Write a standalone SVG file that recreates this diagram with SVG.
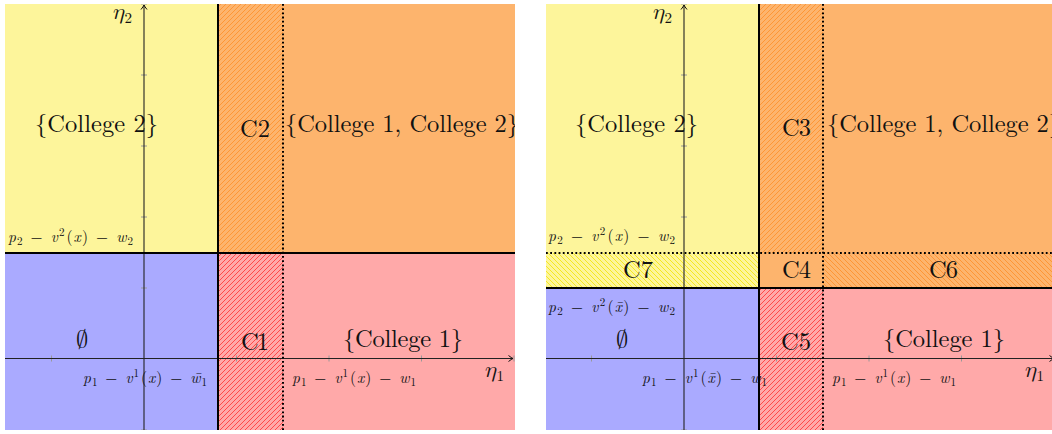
<svg xmlns="http://www.w3.org/2000/svg" width="1052" height="434" viewBox="0 0 1052 434">
<style>
.lbl{font-family:"Latin Modern Roman","Liberation Serif",serif;font-size:24.5px;fill:#111}
.m{font-family:"Latin Modern Roman","Liberation Serif",serif;font-size:15.5px;fill:#111}
.i{font-style:italic}
.sb{font-size:11px}
.eta{font-family:"Latin Modern Math","Latin Modern Roman",serif;font-size:23px;fill:#111}
.es{font-family:"Latin Modern Roman",serif;font-size:15px}
.es0{font-family:"Latin Modern Math","Latin Modern Roman",serif;font-size:24.5px;fill:#111}
.thick{stroke:#000;stroke-width:2;fill:none}
.dot{stroke:#000;stroke-width:2;stroke-dasharray:1.8 2.4;fill:none}
.axis{stroke:#222;stroke-width:1.1;fill:none}
.tick{stroke:#999;stroke-width:1;fill:none}
.yel{fill:#FDF59B}.blu{fill:#AAAAFF}.ora{fill:#FDB46D}.pnk{fill:#FFA9A9}
</style>
<defs>
<pattern id="neO" patternUnits="userSpaceOnUse" width="5" height="5"><path d="M-1,1 L1,-1 M0,5 L5,0 M4,6 L6,4" stroke="#FF8A1C" stroke-width="0.7"/></pattern>
<pattern id="neR" patternUnits="userSpaceOnUse" width="5" height="5"><path d="M-1,1 L1,-1 M0,5 L5,0 M4,6 L6,4" stroke="#FF2020" stroke-width="0.7"/></pattern>
<pattern id="nwY" patternUnits="userSpaceOnUse" width="5" height="5"><path d="M-1,4 L1,6 M0,0 L5,5 M4,-1 L6,1" stroke="#F2E400" stroke-width="0.8"/></pattern>
<pattern id="nwO" patternUnits="userSpaceOnUse" width="5" height="5"><path d="M-1,4 L1,6 M0,0 L5,5 M4,-1 L6,1" stroke="#FF8A1C" stroke-width="0.7"/></pattern>
<marker id="arr" viewBox="-6 -4 8 8" refX="0" refY="0" markerWidth="8" markerHeight="8" markerUnits="userSpaceOnUse" orient="auto"><path d="M-4.5,-3 Q-1.5,-0.6 0,0 Q-1.5,0.6 -4.5,3" fill="none" stroke="#111" stroke-width="1"/></marker>
<clipPath id="cL"><rect x="5" y="4" width="510" height="426"/></clipPath>
<clipPath id="cR"><rect x="546" y="4" width="506" height="426"/></clipPath>
</defs>

<g id="panel-left" clip-path="url(#cL)">
  <g id="L-regions">
    <rect id="L-college2" class="yel" x="5" y="4" width="213" height="249"/>
    <rect id="L-empty" class="blu" x="5" y="253" width="213" height="177"/>
    <rect id="L-both" class="ora" x="218" y="4" width="297" height="249"/>
    <rect id="L-college1" class="pnk" x="218" y="253" width="297" height="177"/>
    <rect id="L-C2" fill="url(#neO)" x="218" y="4" width="65" height="249"/>
    <rect id="L-C1" fill="url(#neR)" x="218" y="253" width="65" height="177"/>
  </g>
  <g id="L-axes">
    <path class="tick" d="M141,4H147M141,75H147M141,146H147M141,217H147M141,288H147M141,430H147"/>
    <path class="tick" d="M51.5,355.5V361.5M236.5,355.5V361.5M329,355.5V361.5M421.5,355.5V361.5M514,355.5V361.5"/>
    <path class="axis" d="M144,434V5" marker-end="url(#arr)"/>
    <path class="axis" d="M5,358.5H513" marker-end="url(#arr)"/>
  </g>
  <g id="L-connectors">
    <path class="thick" d="M218,4V430"/>
    <path class="thick" d="M5,253H515"/>
    <path class="dot" d="M283,4V430"/>
  </g>
  <g id="L-labels">
    <text class="lbl" x="35" y="132" textLength="123">{College 2}</text>
    <text class="lbl" x="240" y="137" textLength="30">C2</text>
    <text class="lbl" x="285" y="132" textLength="234">{College 1, College 2}</text>
    <text class="m" x="8" y="242" textLength="125"><tspan class="i">p</tspan><tspan class="sb" dy="3">2</tspan><tspan dx="7" dy="-3">−</tspan><tspan class="i" dx="7">v</tspan><tspan class="sb" dy="-6">2</tspan><tspan dx="1" dy="6">(</tspan><tspan class="i">x</tspan><tspan>)</tspan><tspan dx="7">−</tspan><tspan class="i" dx="7">w</tspan><tspan class="sb" dy="3">2</tspan></text>
    <text class="es0" x="82" y="348" text-anchor="middle">∅</text>
    <text class="lbl" x="241" y="350" textLength="28">C1</text>
    <text class="lbl" x="343" y="347" textLength="120">{College 1}</text>
    <text class="m" x="83" y="383" textLength="124"><tspan class="i">p</tspan><tspan class="sb" dy="3">1</tspan><tspan dx="7" dy="-3">−</tspan><tspan class="i" dx="7">v</tspan><tspan class="sb" dy="-6">1</tspan><tspan dx="1" dy="6">(</tspan><tspan class="i">x</tspan><tspan>)</tspan><tspan dx="7">−</tspan><tspan class="i" dx="7">w̄</tspan><tspan class="sb" dy="3">1</tspan></text>
    <text class="m" x="292" y="383" textLength="124"><tspan class="i">p</tspan><tspan class="sb" dy="3">1</tspan><tspan dx="7" dy="-3">−</tspan><tspan class="i" dx="7">v</tspan><tspan class="sb" dy="-6">1</tspan><tspan dx="1" dy="6">(</tspan><tspan class="i">x</tspan><tspan>)</tspan><tspan dx="7">−</tspan><tspan class="i" dx="7">w</tspan><tspan class="sb" dy="3">1</tspan></text>
    <text class="eta" x="485" y="377">𝜂<tspan class="es" dy="4">1</tspan></text>
    <text class="eta" x="113" y="19">𝜂<tspan class="es" dy="4">2</tspan></text>
  </g>
</g>

<g id="panel-right" clip-path="url(#cR)">
  <g id="R-regions">
    <rect id="R-college2" class="yel" x="546" y="4" width="213" height="284"/>
    <rect id="R-C7" fill="url(#nwY)" x="546" y="253" width="213" height="35"/>
    <rect id="R-empty" class="blu" x="546" y="288" width="213" height="142"/>
    <rect id="R-both" class="ora" x="759" y="4" width="297" height="284"/>
    <rect id="R-C3" fill="url(#neO)" x="759" y="4" width="64" height="249"/>
    <rect id="R-C6" fill="url(#nwO)" x="823" y="253" width="233" height="35"/>
    <rect id="R-college1" class="pnk" x="759" y="288" width="297" height="142"/>
    <rect id="R-C5" fill="url(#neR)" x="759" y="288" width="64" height="142"/>
  </g>
  <g id="R-axes">
    <path class="tick" d="M681,4H687M681,75H687M681,146H687M681,217H687M681,288H687M681,430H687"/>
    <path class="tick" d="M591.5,355.5V361.5M776.5,355.5V361.5M869,355.5V361.5M961.5,355.5V361.5"/>
    <path class="axis" d="M684,434V5" marker-end="url(#arr)"/>
    <path class="axis" d="M546,358.5H1054" marker-end="url(#arr)"/>
  </g>
  <g id="R-connectors">
    <path class="thick" d="M759,4V430"/>
    <path class="thick" d="M546,288H1056"/>
    <path class="dot" d="M546,253H1056"/>
    <path class="dot" d="M823,4V430"/>
  </g>
  <g id="R-labels">
    <text class="lbl" x="575" y="132" textLength="123">{College 2}</text>
    <text class="lbl" x="782" y="136" textLength="29">C3</text>
    <text class="lbl" x="827" y="132" textLength="234">{College 1, College 2}</text>
    <text class="m" x="548" y="241" textLength="127"><tspan class="i">p</tspan><tspan class="sb" dy="3">2</tspan><tspan dx="7" dy="-3">−</tspan><tspan class="i" dx="7">v</tspan><tspan class="sb" dy="-6">2</tspan><tspan dx="1" dy="6">(</tspan><tspan class="i">x</tspan><tspan>)</tspan><tspan dx="7">−</tspan><tspan class="i" dx="7">w</tspan><tspan class="sb" dy="3">2</tspan></text>
    <text class="lbl" x="623" y="278" textLength="30">C7</text>
    <text class="lbl" x="782" y="278" textLength="29">C4</text>
    <text class="lbl" x="929" y="278" textLength="29">C6</text>
    <text class="m" x="548" y="312" textLength="127"><tspan class="i">p</tspan><tspan class="sb" dy="3">2</tspan><tspan dx="7" dy="-3">−</tspan><tspan class="i" dx="7">v</tspan><tspan class="sb" dy="-6">2</tspan><tspan dx="1" dy="6">(</tspan><tspan class="i">x̄</tspan><tspan>)</tspan><tspan dx="7">−</tspan><tspan class="i" dx="7">w</tspan><tspan class="sb" dy="3">2</tspan></text>
    <text class="es0" x="622" y="348" text-anchor="middle">∅</text>
    <text class="lbl" x="781" y="350" textLength="30">C5</text>
    <text class="lbl" x="883" y="347" textLength="122">{College 1}</text>
    <text class="m" x="642" y="383" textLength="125"><tspan class="i">p</tspan><tspan class="sb" dy="3">1</tspan><tspan dx="7" dy="-3">−</tspan><tspan class="i" dx="7">v</tspan><tspan class="sb" dy="-6">1</tspan><tspan dx="1" dy="6">(</tspan><tspan class="i">x̄</tspan><tspan>)</tspan><tspan dx="7">−</tspan><tspan class="i" dx="7">w</tspan><tspan class="sb" dy="3">1</tspan></text>
    <text class="m" x="832" y="383" textLength="124"><tspan class="i">p</tspan><tspan class="sb" dy="3">1</tspan><tspan dx="7" dy="-3">−</tspan><tspan class="i" dx="7">v</tspan><tspan class="sb" dy="-6">1</tspan><tspan dx="1" dy="6">(</tspan><tspan class="i">x</tspan><tspan>)</tspan><tspan dx="7">−</tspan><tspan class="i" dx="7">w</tspan><tspan class="sb" dy="3">1</tspan></text>
    <text class="eta" x="1025" y="377">𝜂<tspan class="es" dy="4">1</tspan></text>
    <text class="eta" x="653" y="19">𝜂<tspan class="es" dy="4">2</tspan></text>
  </g>
</g>
</svg>
